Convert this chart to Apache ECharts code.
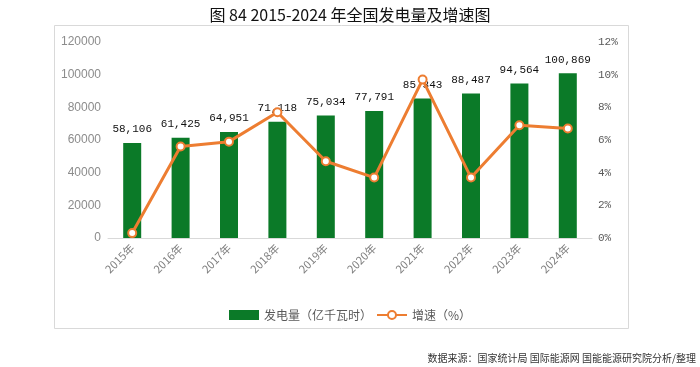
<!DOCTYPE html>
<html><head><meta charset="utf-8">
<script src="https://cdn.jsdelivr.net/npm/echarts@6/dist/echarts.min.js"></script>
<style>html,body{margin:0;padding:0;background:#fff}#c{width:700px;height:367px}</style>
</head><body><div id="c"></div>
<script>
var categories = ['2015年','2016年','2017年','2018年','2019年','2020年','2021年','2022年','2023年','2024年'];
var generation = [58106, 61425, 64951, 71118, 75034, 77791, 85343, 88487, 94564, 100869];
var growth = [0.3, 5.6, 5.9, 7.7, 4.7, 3.7, 9.7, 3.7, 6.9, 6.7];
var leftTicks = [0, 120000, 20000];
var rightTicks = [0, 12, 2];

var chart = echarts.init(document.getElementById('c'));
chart.setOption({
  animation: false,
  backgroundColor: '#fff',
  title: {
    text: '图 84 2015-2024 年全国发电量及增速图',
    left: 'center', top: 2,
    textStyle: {fontFamily: 'Noto Sans CJK SC', fontSize: 16, fontWeight: 'normal', color: '#111'}
  },
  graphic: [
    {type: 'rect', shape: {x: 54.5, y: 25.5, width: 574, height: 303}, style: {fill: 'none', stroke: '#D9D9D9', lineWidth: 1}, z: -1},
    {type: 'text', right: 4, top: 353, style: {text: '数据来源：国家统计局 国际能源网 国能能源研究院分析/整理', font: '10px "Noto Sans CJK SC"', fill: '#333'}}
  ],
  legend: {
    left: 'center', top: 304,
    itemGap: 4, itemWidth: 30, itemHeight: 10,
    textStyle: {fontFamily: 'Noto Sans CJK SC', fontSize: 12, color: '#595959'},
    data: [{name: '发电量（亿千瓦时）', icon: 'rect'}, {name: '增速（%）'}]
  },
  grid: {left: 108, right: 108, top: 42, bottom: 129},
  xAxis: {
    type: 'category', data: categories,
    axisLine: {lineStyle: {color: '#D9D9D9'}},
    axisTick: {show: false},
    axisLabel: {rotate: 45, color: '#7F7F7F', fontSize: 11, fontFamily: 'Noto Sans CJK SC', margin: 8}
  },
  yAxis: [
    {type: 'value', min: leftTicks[0], max: leftTicks[1], interval: leftTicks[2],
     splitLine: {show: false}, axisLine: {show: false}, axisTick: {show: false},
     axisLabel: {formatter: function(v){ return String(v); }, color: '#8C8C8C', fontSize: 12, fontFamily: 'Liberation Sans', margin: 7}},
    {type: 'value', min: rightTicks[0], max: rightTicks[1], interval: rightTicks[2],
     splitLine: {show: false}, axisLine: {show: false}, axisTick: {show: false},
     axisLabel: {formatter: '{value}%', color: '#595959', fontSize: 11, fontFamily: 'Liberation Mono', margin: 6}}
  ],
  series: [
    {name: '发电量（亿千瓦时）', type: 'bar', data: generation, barWidth: 18,
     itemStyle: {color: '#0B7A28'},
     label: {show: true, position: 'top', distance: 8, color: '#111', fontSize: 11, fontFamily: 'Liberation Mono',
       formatter: function(p){ return p.value.toLocaleString('en-US'); }}},
    {name: '增速（%）', type: 'line', yAxisIndex: 1, data: growth, z: 5,
     symbol: 'circle', symbolSize: 8,
     lineStyle: {color: '#ED7D31', width: 3},
     itemStyle: {color: '#fff', borderColor: '#ED7D31', borderWidth: 2}}
  ]
});
</script></body></html>
